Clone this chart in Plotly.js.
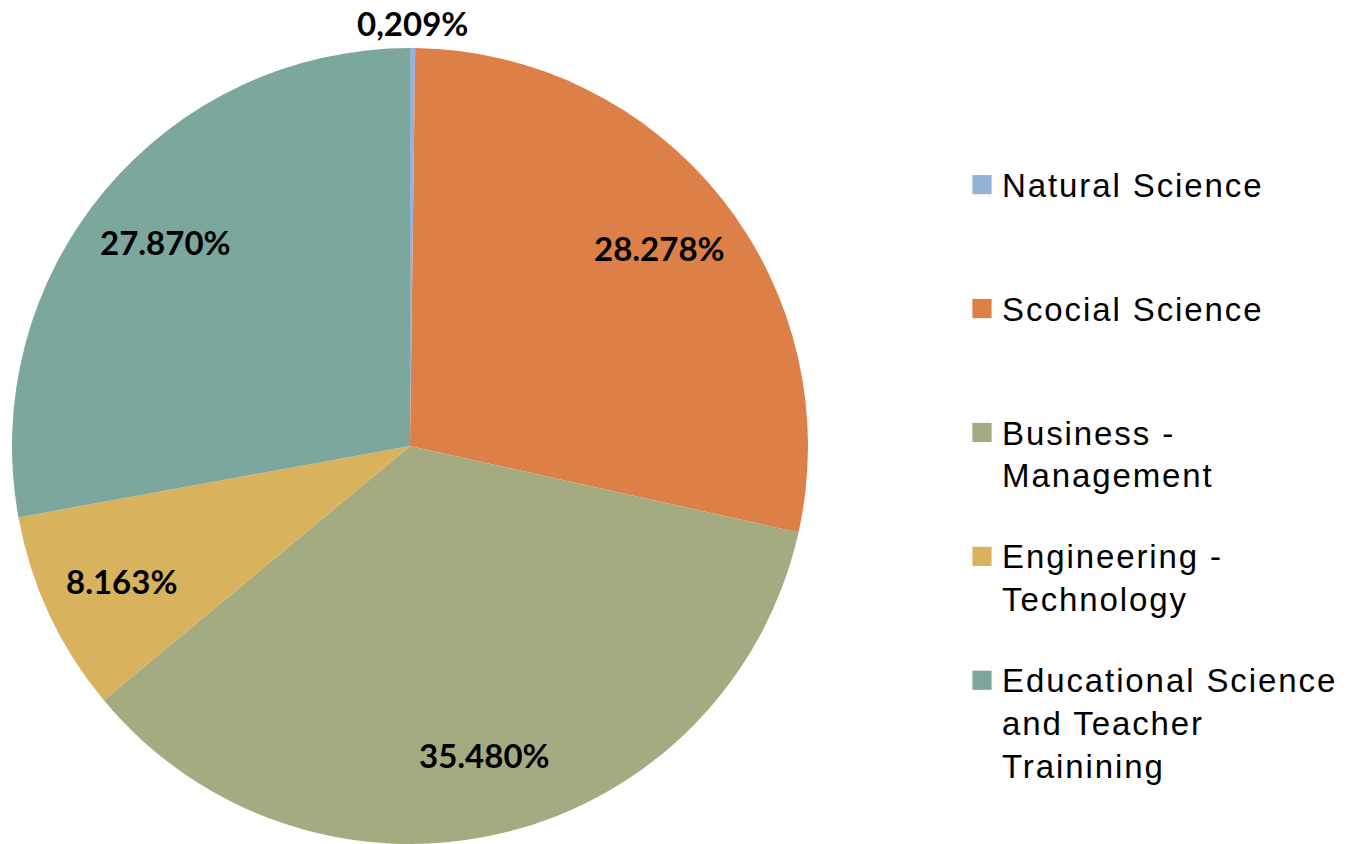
<!DOCTYPE html>
<html>
<head>
<meta charset="utf-8">
<script src="https://cdn.plot.ly/plotly-3.0.1.min.js"></script>
<style>
html,body{margin:0;padding:0;background:#fff;}
#chart{width:1348px;height:844px;}
.legendpoints path{transform:translate(20px,0px) scale(1.6) !important;}
.legendtext{font-size:33px !important;letter-spacing:1.9px;}
</style>
</head>
<body>
<div id="chart"></div>
<script>
const categories = ["Natural Science", "Scocial Science", "Business - Management", "Engineering - Technology", "Educational Science and Teacher Trainining"];
const legendLabels = ["Natural Science<br>\u00a0<br>\u00a0", "Scocial Science<br>\u00a0<br>\u00a0", "Business -<br>Management<br>\u00a0", "Engineering -<br>Technology<br>\u00a0", "Educational Science<br>and Teacher<br>Trainining"];
const values = [0.209, 28.278, 35.480, 8.163, 27.870];
const valueLabels = ["0,209%", "28.278%", "35.480%", "8.163%", "27.870%"];
const colors = ["#95B3D7", "#DD8047", "#A5AB81", "#D8B25C", "#7BA79D"];

const W = 1348, H = 844;
const domX = [12 / W, 808 / W];
const domY = [0, 796 / H];
const cx = (domX[0] + domX[1]) / 2 * W;
const cy = H - (domY[0] + domY[1]) / 2 * H;
const R = Math.min((domX[1] - domX[0]) * W, (domY[1] - domY[0]) * H) / 2;

const total = values.reduce((a, b) => a + b, 0);
const annotations = [];
let cum = 0;
values.forEach((v, i) => {
  const mid = (cum + v / 2) / total * 2 * Math.PI;
  cum += v;
  const r = (v / total < 0.02) ? R + 25 : R * 0.8;
  const px = cx + r * Math.sin(mid);
  const py = cy - r * Math.cos(mid);
  annotations.push({
    x: px / W, y: 1 - py / H, xref: 'paper', yref: 'paper',
    text: '<b>' + valueLabels[i] + '</b>', showarrow: false,
    xanchor: 'center', yanchor: 'middle',
    font: {family: 'Lato, Noto Sans, sans-serif', size: 33, color: '#000'}
  });
});

const data = [{
  type: 'pie',
  labels: legendLabels,
  values: values,
  sort: false,
  direction: 'clockwise',
  rotation: 0,
  textinfo: 'none',
  hoverinfo: 'skip',
  marker: {colors: colors, line: {width: 0}},
  domain: {x: domX, y: domY}
}];

const layout = {
  width: W, height: H,
  margin: {l: 0, r: 0, t: 0, b: 0},
  paper_bgcolor: '#fff',
  showlegend: true,
  legend: {
    x: 962 / W, xanchor: 'left',
    y: 1 - 158 / H, yanchor: 'top',
    valign: 'top',
    font: {family: 'Arial, Liberation Sans, sans-serif', size: 31, color: '#000'},
    bgcolor: 'rgba(0,0,0,0)'
  },
  annotations: annotations
};

Plotly.newPlot('chart', data, layout, {displayModeBar: false, staticPlot: true});
</script>
</body>
</html>
